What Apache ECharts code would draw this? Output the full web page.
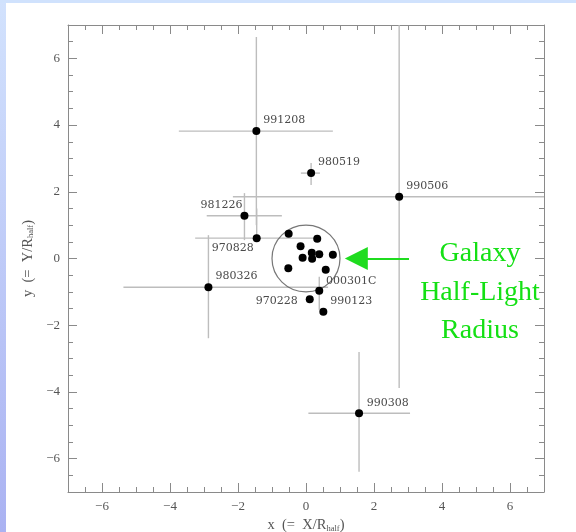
<!DOCTYPE html>
<html><head><meta charset="utf-8">
<script src="https://cdn.jsdelivr.net/npm/echarts@6/dist/echarts.min.js"></script>
<style>
html,body{margin:0;padding:0;background:#fff;}
#wrap{position:relative;width:576px;height:532px;overflow:hidden;background:#fff;}
#left{position:absolute;left:0;top:0;width:6px;height:532px;background:linear-gradient(#d2e2fd,#aab2f2);}
#top{position:absolute;left:0;top:0;width:576px;height:3px;background:#d0e2fd;}
#chart{position:absolute;left:0;top:0;width:576px;height:532px;}
</style></head><body>
<div id="wrap"><div id="left"></div><div id="top"></div><div id="chart"></div></div>
<script>
// ---- data ----
const names  = ['991208','980519','990506','981226','970828','980326','990308','000301C','970228','990123'];
const ptX    = [-1.46, 0.15, 2.74, -1.81, -1.45, -2.87, 1.56, 0.39, 0.11, 0.51];
const ptY    = [ 3.82, 2.56, 1.85,  1.28,  0.61, -0.86, -4.64, -0.97, -1.22, -1.60];
const errXLo = [-3.74, -0.15, -2.15, -2.92, -3.26, -5.37, 0.07, null, null, null];
const errXHi = [ 0.79,  0.41,  7.00, -0.71,  0.41,  0.65, 3.06, null, null, null];
const errYLo = [ 1.00,  2.20, -3.88,  0.55,  0.61, -2.39, -6.39, -1.54, null, null];
const errYHi = [ 6.64,  2.86,  7.00,  1.96,  1.50,  0.70, -2.80, -0.55, null, null];
const coreX  = [-0.51, 0.33, -0.16, 0.17, 0.39, 0.79, -0.10, 0.18, -0.52, 0.58];
const coreY  = [ 0.74, 0.59,  0.37, 0.17, 0.13, 0.11,  0.02, -0.01, -0.29, -0.34];
const tickVals = [-6, -4, -2, 0, 2, 4, 6];
const circleRadius = 1;
const arrowFrom = [3.03, 0];
const arrowTo   = [1.48, 0];
const noteLines = ['Galaxy', 'Half-Light', 'Radius'];

// label placement (pixel offsets from dot centre)
const labelOffset = {
  '991208':[28,-11], '980519':[28,-10.5], '990506':[28,-10.7], '981226':[-23,-10.7],
  '970828':[-24,10], '980326':[28,-10.6], '990308':[28.7,-10.6], '000301C':[32,-10],
  '970228':[-33,1.7], '990123':[28,-11]
};

const SERIF = '"Liberation Serif", "DejaVu Serif", serif';
const FRAME = '#8a8a8a';
const fmt = v => v < 0 ? '\u2212' + Math.abs(v) : String(v);

function axisBase(pos){
  return {type:'value', position:pos, min:-7, max:7, splitLine:{show:false},
          axisLine:{show:true, onZero:false, lineStyle:{color:FRAME, width:1}}};
}
function majorAxis(pos, withLabels, name, nameGap){
  const a = axisBase(pos);
  a.axisTick = {show:true, inside:true, length:9, customValues:tickVals, lineStyle:{color:FRAME}};
  a.axisLabel = withLabels ? {show:true, customValues:tickVals, formatter:fmt, margin:8,
                 fontFamily:SERIF, fontSize:13, color:'#555'} : {show:false};
  if (name){
    a.name = name; a.nameLocation = 'middle'; a.nameGap = nameGap;
    a.nameTextStyle = {fontFamily:SERIF, fontSize:14.5, color:'#555',
      rich:{s:{fontFamily:SERIF, fontSize:8.5, color:'#555', padding:[6,0,0,0]}}};
  }
  return a;
}
function minorAxis(pos){
  const a = axisBase(pos);
  a.interval = 0.5;
  a.axisLine = {show:false, onZero:false};
  a.axisTick = {show:true, inside:true, length:5, lineStyle:{color:FRAME}};
  a.axisLabel = {show:false};
  return a;
}

const chart = echarts.init(document.getElementById('chart'), null, {renderer:'canvas'});

const errData = names.map((n,i)=>[ptX[i], ptY[i],
  errXLo[i]==null?NaN:errXLo[i], errXHi[i]==null?NaN:errXHi[i],
  errYLo[i]==null?NaN:errYLo[i], errYHi[i]==null?NaN:errYHi[i]]);

const option = {
  animation:false,
  backgroundColor:'transparent',
  grid:{left:68, right:32, top:25, bottom:40, show:false, containLabel:false, outerBoundsMode:'none'},
  xAxis:[
    majorAxis('bottom', true, 'x\u2002(=\u2002X/R{s|half})', 14),
    minorAxis('bottom'),
    majorAxis('top', false),
    minorAxis('top')
  ],
  yAxis:[
    majorAxis('left', true, 'y\u2002(=\u2002Y/R{s|half})', 25),
    minorAxis('left'),
    majorAxis('right', false),
    minorAxis('right')
  ],
  series:[
    {
      type:'custom', z:1, silent:true,
      data:errData,
      encode:{x:0, y:1},
      renderItem:function(params, api){
        const x = api.value(0), y = api.value(1);
        const xl = api.value(2), xh = api.value(3), yl = api.value(4), yh = api.value(5);
        const ch = [];
        const st = {stroke:'#bdbdbd', lineWidth:1.4};
        if (!isNaN(xl) && !isNaN(xh)){
          const a = api.coord([xl, y]), b = api.coord([xh, y]);
          ch.push({type:'line', shape:{x1:a[0], y1:a[1], x2:b[0], y2:b[1]}, style:st});
        }
        if (!isNaN(yl) && !isNaN(yh)){
          const a = api.coord([x, yl]), b = api.coord([x, yh]);
          ch.push({type:'line', shape:{x1:a[0], y1:a[1], x2:b[0], y2:b[1]}, style:st});
        }
        return {type:'group', children:ch};
      }
    },
    {
      type:'scatter', z:2, silent:true, name:'circle',
      data:[[0,0]], symbol:'circle', symbolSize:68,
      itemStyle:{color:'rgba(0,0,0,0)', borderColor:'#555', borderWidth:1.2}
    },
    {
      type:'scatter', z:3, silent:true,
      symbolSize:8, itemStyle:{color:'#000', opacity:1},
      data:coreX.map((v,i)=>[v, coreY[i]])
    },
    {
      type:'scatter', z:4, silent:true,
      symbolSize:8, itemStyle:{color:'#000', opacity:1},
      label:{show:true, position:'inside', formatter:'{b}', fontFamily:'"DejaVu Serif", serif',
             fontSize:11, color:'#4a4a4a'},
      data:names.map((n,i)=>({name:n, value:[ptX[i], ptY[i]], label:{offset:labelOffset[n]}}))
    },
    {
      type:'lines', coordinateSystem:'cartesian2d', z:5, silent:true,
      symbol:['none','triangle'], symbolSize:[20,23],
      lineStyle:{color:'#1fdc1f', width:2, opacity:1},
      itemStyle:{color:'#1fdc1f'},
      data:[{coords:[arrowFrom, arrowTo]}]
    }
  ],
  graphic:noteLines.map((t,i)=>({
    type:'text', x:480, y:254 + i*38.5, z:10,
    style:{text:t, fill:'#14e014', font:'28px "Liberation Serif", serif',
           textAlign:'center', textVerticalAlign:'middle'}
  }))
};
chart.setOption(option);

// size the half-light-radius circle from the axis scales
const p0 = chart.convertToPixel({gridIndex:0}, [0,0]);
const p1 = chart.convertToPixel({gridIndex:0}, [circleRadius, circleRadius]);
chart.setOption({series:[{}, {symbolSize:[2*Math.abs(p1[0]-p0[0]), 2*Math.abs(p1[1]-p0[1])]}]});
</script>
</body></html>
